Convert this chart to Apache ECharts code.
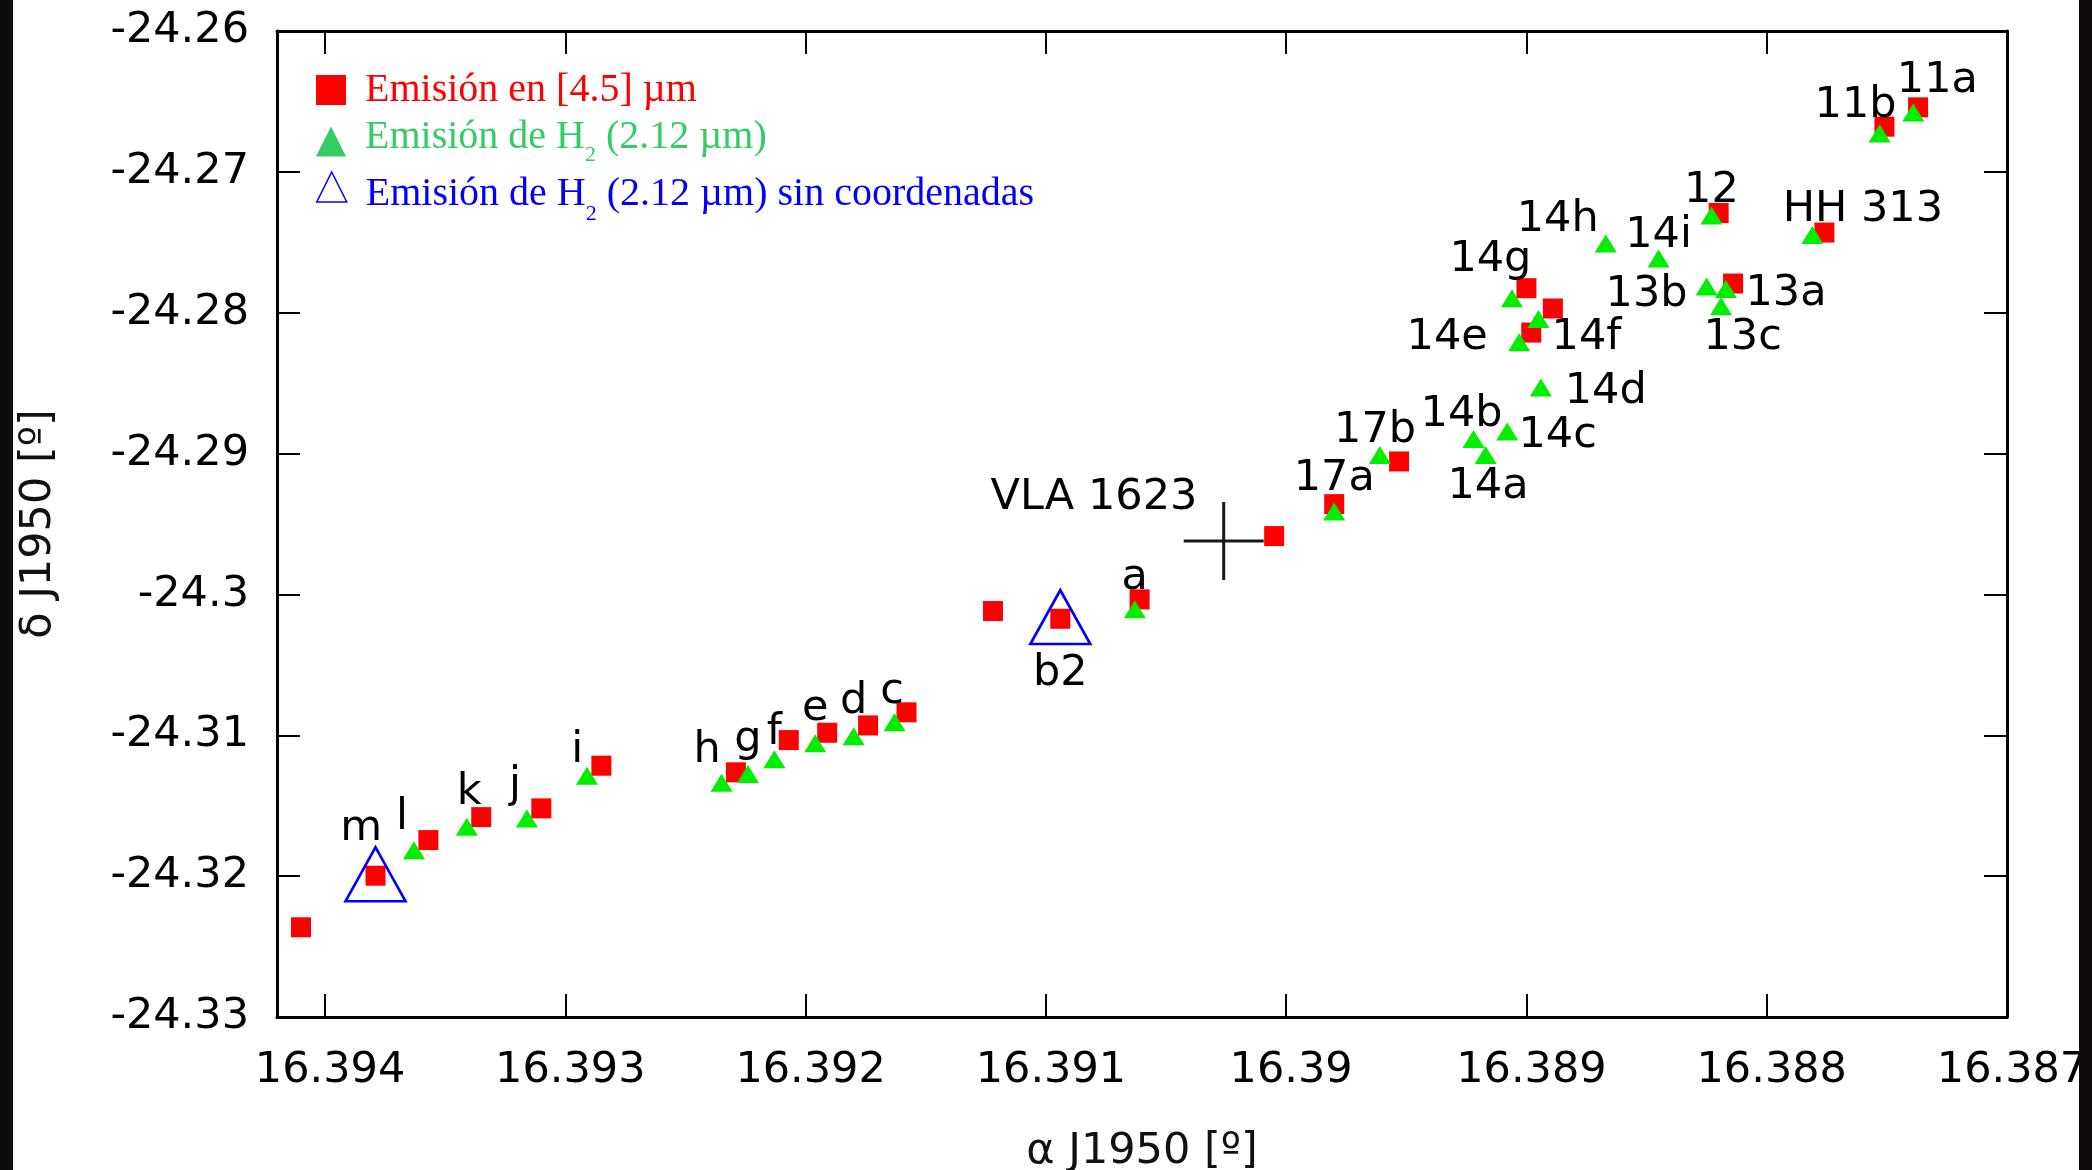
<!DOCTYPE html>
<html>
<head>
<meta charset="utf-8">
<script src="https://cdn.jsdelivr.net/npm/echarts/dist/echarts.min.js"></script>
<style>
html,body{margin:0;padding:0;background:#fff;}
#chart{width:2092px;height:1170px;}
</style>
</head>
<body>
<div id="chart"></div>
<script>
// ---------- data ----------
const xTickLabels = ['16.394','16.393','16.392','16.391','16.39','16.389','16.388','16.387'];
const yTickLabels = ['-24.26','-24.27','-24.28','-24.29','-24.3','-24.31','-24.32','-24.33'];
const xRange = [16.387, 16.3942];
const yRange = [-24.33, -24.26];

const seriesNames = [
  'Emisión en [4.5] µm',
  'Emisión de H2 (2.12 µm)',
  'Emisión de H2 (2.12 µm) sin coordenadas'
];

// red squares: [4.5] um emission
const squareRA  = [16.39410,16.39379,16.39357,16.39335,16.39310,16.39285,16.39229,16.39207,16.39191,16.39174,16.39158,16.39122,16.39094,16.39061,16.39005,16.38980,16.38953,16.38898,16.38889,16.38900,16.38820,16.38814,16.38776,16.38751,16.38737];
const squareDec = [-24.32363,-24.31997,-24.31744,-24.31581,-24.31519,-24.31216,-24.31263,-24.31034,-24.30982,-24.30930,-24.30837,-24.30118,-24.30173,-24.30035,-24.29586,-24.29359,-24.29056,-24.28141,-24.27970,-24.27826,-24.27292,-24.27793,-24.27431,-24.26679,-24.26542];

// green triangles: H2 emission
const triRA  = [16.39363,16.39341,16.39316,16.39291,16.39235,16.39224,16.39213,16.39196,16.39180,16.39163,16.39063,16.38980,16.38961,16.38922,16.38917,16.38908,16.38894,16.38903,16.38895,16.38906,16.38867,16.38845,16.38823,16.38825,16.38817,16.38819,16.38781,16.38753,16.38739];
const triDec = [-24.31817,-24.31649,-24.31590,-24.31287,-24.31337,-24.31275,-24.31171,-24.31057,-24.31006,-24.30908,-24.30106,-24.29411,-24.29011,-24.28896,-24.29011,-24.28843,-24.28531,-24.28209,-24.28044,-24.27897,-24.27509,-24.27615,-24.27310,-24.27814,-24.27831,-24.27954,-24.27448,-24.26728,-24.26579];

// open blue triangles: H2 emission without coordinates
const openRA  = [16.39379, 16.39094];
const openDec = [-24.31987, -24.30161];

// VLA 1623 position (cross)
const crossRA  = [16.39026];
const crossDec = [-24.29620];

// text labels (anchor = label centre, in data coordinates)
const labelNames = ['m','l','k','j','i','h','g','f','e','d','c','b2','a','VLA 1623','17a','17b','14b','14c','14a','14d','14e','14f','14g','14h','14i','13b','13a','13c','12','HH 313','11b','11a'];
const labelRA  = [16.39385,16.39368,16.39340,16.39321,16.39295,16.39241,16.39224,16.39213,16.39196,16.39180,16.39164,16.39094,16.39063,16.39080,16.38980,16.38963,16.38927,16.38887,16.38916,16.38867,16.38933,16.38875,16.38915,16.38887,16.38845,16.38850,16.38792,16.38810,16.38823,16.38760,16.38763,16.38729];
const labelDec = [-24.31644,-24.31568,-24.31389,-24.31339,-24.31091,-24.31089,-24.31008,-24.30963,-24.30793,-24.30738,-24.30667,-24.30544,-24.29858,-24.29290,-24.29160,-24.28818,-24.28704,-24.28853,-24.29212,-24.28541,-24.28160,-24.28160,-24.27604,-24.27320,-24.27434,-24.27852,-24.27847,-24.28155,-24.27114,-24.27249,-24.26511,-24.26334];

// ---------- chart ----------
const zip = (a, b) => a.map((v, i) => [v, b[i]]);
const tickFmt = list => v => {
  const m = list.find(s => Math.abs(parseFloat(s) - v) < 1e-7);
  return m || '';
};

const SANS = 'DejaVu Sans';
const SERIF = 'Liberation Serif';
const FS = 43;
const RED = '#ff0000', GREEN = '#00ee00', GREEN_TXT = '#33cc66', BLUE = '#0000ff';

const axisBase = {
  type: 'value',
  splitLine: { show: false },
  axisLine: { show: true, onZero: false, lineStyle: { color: '#000', width: 3 } },
  axisTick: { show: true, inside: true, length: 23, lineStyle: { color: '#000', width: 2 } }
};

const chart = echarts.init(document.getElementById('chart'), null, { renderer: 'canvas' });

const legendCommon = {
  left: 316, padding: 0, itemWidth: 30, itemHeight: 30, itemGap: 0,
  selectedMode: false, orient: 'vertical'
};

chart.setOption({
  animation: false,
  backgroundColor: '#ffffff',
  grid: { left: 277, right: 85, top: 31, bottom: 153, containLabel: false, outerBoundsMode: 'none' },
  xAxis: [
    Object.assign({}, axisBase, {
      position: 'bottom', min: xRange[0], max: xRange[1], interval: 0.001, inverse: true,
      axisLabel: { show: true, formatter: tickFmt(xTickLabels), fontFamily: SANS, fontSize: FS, color: '#000', margin: 32, padding: [0, 0, 0, 10], hideOverlap: false },
      name: 'α J1950 [º]', nameLocation: 'middle', nameGap: 113,
      nameTextStyle: { fontFamily: SANS, fontSize: FS, color: '#111' }
    }),
    Object.assign({}, axisBase, {
      position: 'top', min: xRange[0], max: xRange[1], interval: 0.001, inverse: true,
      axisLabel: { show: false }
    })
  ],
  yAxis: [
    Object.assign({}, axisBase, {
      position: 'left', min: yRange[0], max: yRange[1], interval: 0.01,
      axisLabel: { show: true, formatter: tickFmt(yTickLabels), fontFamily: SANS, fontSize: FS, color: '#000', margin: 28, padding: [6, 0, 0, 0], hideOverlap: false },
      name: 'δ J1950 [º]', nameLocation: 'middle', nameGap: 217,
      nameTextStyle: { fontFamily: SANS, fontSize: FS, color: '#111' }
    }),
    Object.assign({}, axisBase, {
      position: 'right', min: yRange[0], max: yRange[1], interval: 0.01,
      axisLabel: { show: false }
    })
  ],
  legend: [
    Object.assign({}, legendCommon, {
      top: 70,
      data: [{ name: seriesNames[0], icon: 'rect', itemStyle: { color: RED, opacity: 1 } }],
      formatter: () => '{a|Emisión en [4.5] µm}',
      textStyle: { rich: {
        a: { fontFamily: SERIF, fontSize: 40, lineHeight: 40, color: RED, padding: [0, 0, 0, 14] }
      } }
    }),
    Object.assign({}, legendCommon, {
      top: 117,
      data: [{ name: seriesNames[1], icon: 'triangle', itemStyle: { color: GREEN_TXT, opacity: 1 } }],
      formatter: () => '{a|Emisión de H}{s|2}{b| (2.12 µm)}',
      textStyle: { rich: {
        a: { fontFamily: SERIF, fontSize: 40, lineHeight: 40, color: GREEN_TXT, verticalAlign: 'top', padding: [0, 0, 0, 14] },
        b: { fontFamily: SERIF, fontSize: 40, lineHeight: 40, color: GREEN_TXT, verticalAlign: 'top' },
        s: { fontFamily: SERIF, fontSize: 22, lineHeight: 49, color: GREEN_TXT, verticalAlign: 'top', padding: [27, 0, 0, 0] }
      } }
    }),
    Object.assign({}, legendCommon, {
      top: 167,
      data: [{ name: seriesNames[2], icon: 'triangle', itemStyle: { color: 'rgba(0,0,0,0)', borderColor: BLUE, borderWidth: 1.5, opacity: 1 } }],
      formatter: () => '{a|Emisión de H}{s|2}{b| (2.12 µm) sin coordenadas}',
      textStyle: { rich: {
        a: { fontFamily: SERIF, fontSize: 40, lineHeight: 40, color: BLUE, verticalAlign: 'top', padding: [7, 0, 0, 14] },
        b: { fontFamily: SERIF, fontSize: 40, lineHeight: 40, color: BLUE, verticalAlign: 'top', padding: [7, 0, 0, 0] },
        s: { fontFamily: SERIF, fontSize: 22, lineHeight: 22, color: BLUE, verticalAlign: 'top', padding: [36, 0, 0, 0] }
      } }
    })
  ],
  series: [
    {
      name: seriesNames[0], type: 'scatter', symbol: 'rect', symbolSize: 20,
      itemStyle: { color: RED, opacity: 1 }, data: zip(squareRA, squareDec), silent: true
    },
    {
      name: seriesNames[1], type: 'scatter', symbol: 'triangle', symbolSize: [22, 18],
      itemStyle: { color: GREEN, opacity: 1 }, data: zip(triRA, triDec), silent: true
    },
    {
      name: seriesNames[2], type: 'scatter', symbol: 'triangle', symbolSize: [60, 54],
      itemStyle: { color: 'rgba(0,0,0,0)', borderColor: BLUE, borderWidth: 2.6, opacity: 1 },
      data: zip(openRA, openDec), silent: true
    },
    {
      name: 'VLA 1623', type: 'scatter', symbol: 'path://M40,0 L40,80 M0,40 L80,40', symbolSize: [80, 78],
      itemStyle: { color: 'rgba(0,0,0,0)', borderColor: '#1a1a1a', borderWidth: 3, opacity: 1 },
      data: zip(crossRA, crossDec), silent: true
    },
    {
      name: 'labels', type: 'scatter', symbolSize: 1,
      itemStyle: { color: 'rgba(0,0,0,0)', opacity: 1 },
      label: { show: true, position: 'inside', offset: [0, 3], formatter: p => p.name, fontFamily: SANS, fontSize: FS, color: '#000' },
      data: labelNames.map((n, i) => ({ name: n, value: [labelRA[i], labelDec[i]] })),
      silent: true
    }
  ],
  graphic: [
    { type: 'rect', z: 100, shape: { x: 0, y: 0, width: 13, height: 1170 }, style: { fill: '#0f0b0e' } },
    { type: 'rect', z: 100, shape: { x: 2079, y: 0, width: 13, height: 1170 }, style: { fill: '#0f0b0e' } }
  ]
});
</script>
</body>
</html>
